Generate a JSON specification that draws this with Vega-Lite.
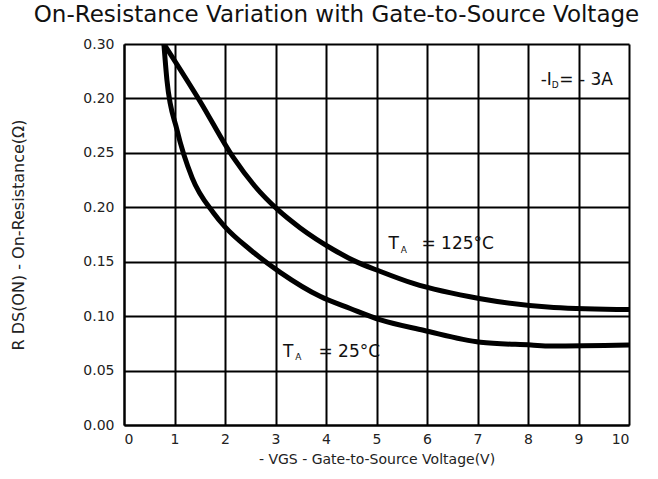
{
  "$schema": "https://vega.github.io/schema/vega-lite/v6.json",
  "width": 505,
  "height": 381,
  "autosize": {"type": "none"},
  "padding": {"left": 124, "top": 44, "right": 29, "bottom": 54},
  "background": "white",
  "config": {
    "view": {"stroke": null},
    "font": "DejaVu Sans"
  },
  "title": {
    "text": "On-Resistance Variation with Gate-to-Source Voltage",
    "font": "DejaVu Sans",
    "fontSize": 23,
    "fontWeight": "normal",
    "color": "#111",
    "anchor": "middle",
    "dx": -40,
    "offset": 10
  },
  "datasets": {
    "curves": [
      {"curve": "125C", "vgs": 0.79, "r": 0.350},
      {"curve": "125C", "vgs": 1.51, "r": 0.297},
      {"curve": "125C", "vgs": 2.16, "r": 0.246},
      {"curve": "125C", "vgs": 2.58, "r": 0.220},
      {"curve": "125C", "vgs": 3.04, "r": 0.198},
      {"curve": "125C", "vgs": 3.49, "r": 0.181},
      {"curve": "125C", "vgs": 4.15, "r": 0.161},
      {"curve": "125C", "vgs": 4.55, "r": 0.151},
      {"curve": "125C", "vgs": 5.08, "r": 0.141},
      {"curve": "125C", "vgs": 5.73, "r": 0.130},
      {"curve": "125C", "vgs": 7.06, "r": 0.116},
      {"curve": "125C", "vgs": 8.51, "r": 0.108},
      {"curve": "125C", "vgs": 10.0, "r": 0.106},
      {"curve": "25C", "vgs": 0.79, "r": 0.350},
      {"curve": "25C", "vgs": 0.85, "r": 0.317},
      {"curve": "25C", "vgs": 1.05, "r": 0.271},
      {"curve": "25C", "vgs": 1.35, "r": 0.227},
      {"curve": "25C", "vgs": 1.77, "r": 0.195},
      {"curve": "25C", "vgs": 2.00, "r": 0.182},
      {"curve": "25C", "vgs": 2.50, "r": 0.161},
      {"curve": "25C", "vgs": 3.10, "r": 0.140},
      {"curve": "25C", "vgs": 3.89, "r": 0.118},
      {"curve": "25C", "vgs": 4.48, "r": 0.107},
      {"curve": "25C", "vgs": 5.08, "r": 0.0965},
      {"curve": "25C", "vgs": 5.93, "r": 0.087},
      {"curve": "25C", "vgs": 7.06, "r": 0.076},
      {"curve": "25C", "vgs": 8.06, "r": 0.0735},
      {"curve": "25C", "vgs": 8.45, "r": 0.0726},
      {"curve": "25C", "vgs": 10.0, "r": 0.0735}
    ],
    "labels": [
      {"kind": "main", "label": "T", "vgs": 5.24, "r": 0.166},
      {"kind": "sub", "label": "A", "vgs": 5.48, "r": 0.161},
      {"kind": "main", "label": "=  125°C", "vgs": 5.89, "r": 0.166},
      {"kind": "main", "label": "T", "vgs": 3.15, "r": 0.067},
      {"kind": "sub", "label": "A", "vgs": 3.39, "r": 0.0625},
      {"kind": "main", "label": "=  25°C", "vgs": 3.85, "r": 0.067},
      {"kind": "main", "label": "-I", "vgs": 8.25, "r": 0.317},
      {"kind": "sub", "label": "D", "vgs": 8.47, "r": 0.3125},
      {"kind": "main", "label": "= - 3A", "vgs": 8.62, "r": 0.317}
    ]
  },
  "layer": [
    {
      "data": {"name": "curves"},
      "mark": {"type": "line", "color": "black", "strokeWidth": 5, "strokeCap": "round", "strokeJoin": "round", "interpolate": "monotone", "clip": true},
      "encoding": {
        "x": {
          "field": "vgs", "type": "quantitative",
          "scale": {"domain": [0, 10], "nice": false},
          "axis": {
            "values": [0, 1, 2, 3, 4, 5, 6, 7, 8, 9, 10],
            "format": "d",
            "grid": true, "gridColor": "black", "gridWidth": 2, "gridOpacity": 1,
            "domainColor": "black", "domainWidth": 2,
            "ticks": false,
            "labelPadding": 7,
            "labelFontSize": 14, "labelColor": "#222", "labelFont": "DejaVu Sans",
            "title": "- VGS - Gate-to-Source Voltage(V)",
            "titleFont": "DejaVu Sans", "titleFontSize": 14, "titleFontWeight": "normal", "titleColor": "#222",
            "titlePadding": 6
          }
        },
        "y": {
          "field": "r", "type": "quantitative",
          "scale": {"domain": [0, 0.35], "nice": false},
          "axis": {
            "values": [0, 0.05, 0.1, 0.15, 0.2, 0.25, 0.3, 0.35],
            "labelExpr": "datum.value > 0.34 ? '0.30' : (datum.value > 0.29 && datum.value < 0.31) ? '0.20' : format(datum.value, '.2f')",
            "grid": true, "gridColor": "black", "gridWidth": 2, "gridOpacity": 1,
            "domainColor": "black", "domainWidth": 2,
            "ticks": false,
            "labelPadding": 10,
            "labelFontSize": 14, "labelColor": "#222", "labelFont": "DejaVu Sans",
            "title": "R DS(ON) - On-Resistance(Ω)",
            "titleFont": "DejaVu Sans", "titleFontSize": 16, "titleFontWeight": "normal", "titleColor": "#222",
            "titlePadding": 56
          }
        },
        "detail": {"field": "curve"}
      }
    },
    {
      "data": {"name": "labels"},
      "transform": [{"filter": "datum.kind == 'main'"}],
      "mark": {"type": "text", "align": "left", "baseline": "middle", "fontSize": 17, "font": "DejaVu Sans", "color": "#111"},
      "encoding": {
        "x": {"field": "vgs", "type": "quantitative"},
        "y": {"field": "r", "type": "quantitative"},
        "text": {"field": "label"}
      }
    },
    {
      "data": {"name": "labels"},
      "transform": [{"filter": "datum.kind == 'sub'"}],
      "mark": {"type": "text", "align": "left", "baseline": "middle", "fontSize": 9, "font": "DejaVu Sans", "color": "#111"},
      "encoding": {
        "x": {"field": "vgs", "type": "quantitative"},
        "y": {"field": "r", "type": "quantitative"},
        "text": {"field": "label"}
      }
    }
  ]
}
